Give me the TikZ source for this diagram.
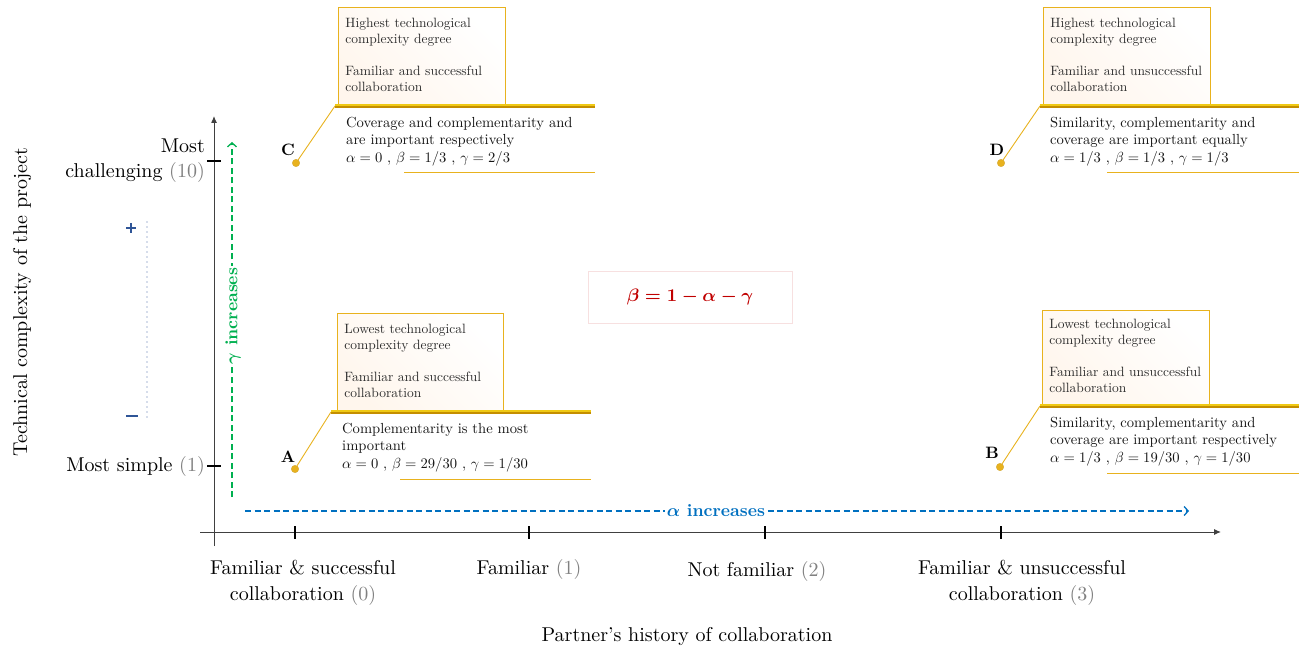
\documentclass[tikz,border=0pt]{standalone}
\usetikzlibrary{arrows.meta}
\definecolor{gold}{RGB}{232,178,30}
\definecolor{golddark}{RGB}{196,142,0}
\definecolor{gammagreen}{RGB}{0,176,80}
\definecolor{alphablue}{RGB}{0,112,192}
\definecolor{pmblue}{RGB}{47,85,151}
\definecolor{betared}{RGB}{192,0,0}
\definecolor{numgray}{RGB}{128,128,128}
\definecolor{bodytext}{RGB}{20,20,20}
\definecolor{hdrtext}{RGB}{45,45,45}
\newcommand{\nm}[1]{{\color{numgray}#1}}
\newcommand{\sbx}[3]{\scalebox{#1}{\begin{tabular}{@{}#2@{}}#3\end{tabular}}}
\tikzset{
  bigfont/.style={font=\fontsize{10}{12.6}\selectfont, inner sep=0pt},
  axisline/.style={black!75, line width=1pt, -{Latex[length=7pt,width=6pt]}},
  tickmark/.style={black, line width=2.5pt},
  dotpt/.style={circle, fill=gold, draw=golddark!80, line width=0.3pt, minimum size=7.5pt, inner sep=0pt},
  letter/.style={font=\fontsize{10}{12}\selectfont\bfseries, inner sep=0pt},
  hdrbox/.style={draw=gold, line width=0.9pt, left color=orange!7, right color=white, shading angle=135,
     anchor=north west, align=left, inner sep=0pt, text=hdrtext,
     font=\fontsize{10}{11.85}\selectfont},
  bodytxt/.style={anchor=north west, align=left, inner sep=0pt, text=bodytext,
     font=\fontsize{10}{12}\selectfont},
  leader/.style={gold, line width=0.9pt},
  thickbar/.style={golddark, line width=4.5pt},
  thickbarhi/.style={gold!70!yellow, line width=1.6pt},
  underl/.style={gold, line width=1pt},
  incarrow/.style={dashed, dash pattern=on 6pt off 3.5pt, line width=1.3pt, -{Straight Barb[length=4pt,width=9pt]}},
  inclabel/.style={fill=white, inner sep=1.5pt, font=\fontsize{10}{12}\selectfont\bfseries},
}
\begin{document}
\begin{tikzpicture}[x=1pt,y=-1pt]
\useasboundingbox (0,0) rectangle (1299,652);

% axes
\coordinate (yb) at (214,546);
\coordinate (yt) at (214,116);
\coordinate (xl) at (200,532);
\coordinate (xr) at (1221,532);
\draw[axisline] (yb) -- (yt);
\draw[axisline] (xl) -- (xr);

% x ticks
\foreach \n/\x in {t0/295,t1/529,t2/765,t3/1001}{
  \coordinate (\n a) at (\x,526); \coordinate (\n b) at (\x,539);
  \draw[tickmark] (\n a) -- (\n b);
}
% y ticks
\coordinate (ytha) at (207,161); \coordinate (ythb) at (221,161);
\coordinate (ytla) at (207,466); \coordinate (ytlb) at (221,466);
\draw[tickmark] (ytha) -- (ythb);
\draw[tickmark] (ytla) -- (ytlb);

% y tick labels
\node[bigfont, anchor=east] (ylh) at (205,160) {\sbx{2}{r}{Most\\challenging \nm{(10)}}};
\node[bigfont, anchor=east] (yll) at (205,466) {\sbx{2}{r}{Most simple \nm{(1)}}};

% x tick labels
\node[bigfont, anchor=north] (xl0) at (303,557) {\sbx{2}{c}{Familiar \& successful\\collaboration \nm{(0)}}};
\node[bigfont, anchor=north] (xl1) at (529,557) {\sbx{2}{c}{Familiar \nm{(1)}}};
\node[bigfont, anchor=north] (xl2) at (757,559) {\sbx{2}{c}{Not familiar \nm{(2)}}};
\node[bigfont, anchor=north] (xl3) at (1022,557) {\sbx{2}{c}{Familiar \& unsuccessful\\collaboration \nm{(3)}}};

% axis titles
\node[bigfont] (xtitle) at (687,636) {\sbx{2}{c}{Partner's history of collaboration}};
\node[bigfont, rotate=90] (ytitle) at (22,302) {\sbx{2}{c}{Technical complexity of the project}};

% scale marks
\coordinate (pl1) at (126,228); \coordinate (pl2) at (136,228);
\coordinate (pl3) at (131,223); \coordinate (pl4) at (131,233);
\draw[pmblue, line width=1.8pt] (pl1) -- (pl2);
\draw[pmblue, line width=1.8pt] (pl3) -- (pl4);
\coordinate (mn1) at (126,416); \coordinate (mn2) at (138,416);
\draw[pmblue, line width=2.6pt] (mn1) -- (mn2);
\coordinate (dt) at (147,222); \coordinate (db) at (147,418);
\draw[pmblue!85, line width=1.2pt, line cap=round, dash pattern=on 0pt off 5pt] (dt) -- (db);

% gamma increases
\coordinate (g1) at (232,497); \coordinate (g2) at (232,142);
\draw[gammagreen, incarrow] (g1) -- (g2);
\node[inclabel, rotate=90, text=gammagreen] (glab) at (233,316) {\scalebox{1.75}{{\boldmath$\gamma$} increases}};

% alpha increases
\coordinate (a1) at (245,511); \coordinate (a2) at (1189,511);
\draw[alphablue, incarrow] (a1) -- (a2);
\node[inclabel, text=alphablue] (alab) at (716,511) {\scalebox{1.75}{{\boldmath$\alpha$} increases}};

% beta box
\node[draw=betared!12, line width=0.8pt, minimum width=204pt, minimum height=52pt, text=betared, font=\fontsize{10}{12}\selectfont] (beta) at (690,297) {\scalebox{1.8}{\boldmath$\beta = 1 - \alpha - \gamma$}};

% ---------- callout C ----------
\node[dotpt] (pC) at (296,163) {};
\node[letter] (lC) at (288,150) {\scalebox{1.65}{C}};
\node[hdrbox, minimum width=167pt, minimum height=97pt, text width=153pt, inner xsep=6.5pt] (hC) at (338,7)
  {\sbx{1.35}{l}{Highest technological\\complexity degree\\[11.85pt]Familiar and successful\\collaboration}};
\coordinate (cC) at (335,106); \coordinate (eC) at (595,106);
\draw[leader] (pC) -- (cC);
\draw[thickbar] (cC) -- (eC);
\draw[thickbarhi] ([yshift=1pt]cC) -- ([yshift=1pt]eC);
\node[bodytxt] (bC) at (346,115) {\sbx{1.46}{l}{Coverage and complementarity and\\are important respectively\\$\alpha = 0$ , $\beta = 1/3$ , $\gamma = 2/3$}};
\coordinate (uC1) at (404,173); \coordinate (uC2) at (595,173);
\draw[underl] (uC1) -- (uC2);

% ---------- callout D ----------
\node[dotpt] (pD) at (1001,163) {};
\node[letter] (lD) at (997,150) {\scalebox{1.65}{D}};
\node[hdrbox, minimum width=167pt, minimum height=97pt, text width=153pt, inner xsep=6.5pt] (hD) at (1043,7)
  {\sbx{1.35}{l}{Highest technological\\complexity degree\\[11.85pt]Familiar and unsuccessful\\collaboration}};
\coordinate (cD) at (1040,106); \coordinate (eD) at (1299,106);
\draw[leader] (pD) -- (cD);
\draw[thickbar] (cD) -- (eD);
\draw[thickbarhi] ([yshift=1pt]cD) -- ([yshift=1pt]eD);
\node[bodytxt] (bD) at (1050,115) {\sbx{1.46}{l}{Similarity, complementarity and\\coverage are important equally\\$\alpha = 1/3$ , $\beta = 1/3$ , $\gamma = 1/3$}};
\coordinate (uD1) at (1107,173); \coordinate (uD2) at (1299,173);
\draw[underl] (uD1) -- (uD2);

% ---------- callout A ----------
\node[dotpt] (pA) at (295,469) {};
\node[letter] (lA) at (288,457) {\scalebox{1.65}{A}};
\node[hdrbox, minimum width=166pt, minimum height=97pt, text width=152pt, inner xsep=6.5pt] (hA) at (337,313)
  {\sbx{1.35}{l}{Lowest technological\\complexity degree\\[11.85pt]Familiar and successful\\collaboration}};
\coordinate (cA) at (331,412); \coordinate (eA) at (591,412);
\draw[leader] (pA) -- (cA);
\draw[thickbar] (cA) -- (eA);
\draw[thickbarhi] ([yshift=1pt]cA) -- ([yshift=1pt]eA);
\node[bodytxt] (bA) at (342,421) {\sbx{1.46}{l}{Complementarity is the most\\important\\$\alpha = 0$ , $\beta = 29/30$ , $\gamma = 1/30$}};
\coordinate (uA1) at (400,479); \coordinate (uA2) at (591,479);
\draw[underl] (uA1) -- (uA2);

% ---------- callout B ----------
\node[dotpt] (pB) at (1000,467) {};
\node[letter] (lB) at (992,453) {\scalebox{1.65}{B}};
\node[hdrbox, minimum width=167pt, minimum height=94pt, text width=153pt, inner xsep=6.5pt] (hB) at (1042,310)
  {\sbx{1.35}{l}{Lowest technological\\complexity degree\\[11.85pt]Familiar and unsuccessful\\collaboration}};
\coordinate (cB) at (1040,406); \coordinate (eB) at (1299,406);
\draw[leader] (pB) -- (cB);
\draw[thickbar] (cB) -- (eB);
\draw[thickbarhi] ([yshift=1pt]cB) -- ([yshift=1pt]eB);
\node[bodytxt] (bB) at (1050,415) {\sbx{1.46}{l}{Similarity, complementarity and\\coverage are important respectively\\$\alpha = 1/3$ , $\beta = 19/30$ , $\gamma = 1/30$}};
\coordinate (uB1) at (1107,473); \coordinate (uB2) at (1299,473);
\draw[underl] (uB1) -- (uB2);
\end{tikzpicture}
\end{document}
